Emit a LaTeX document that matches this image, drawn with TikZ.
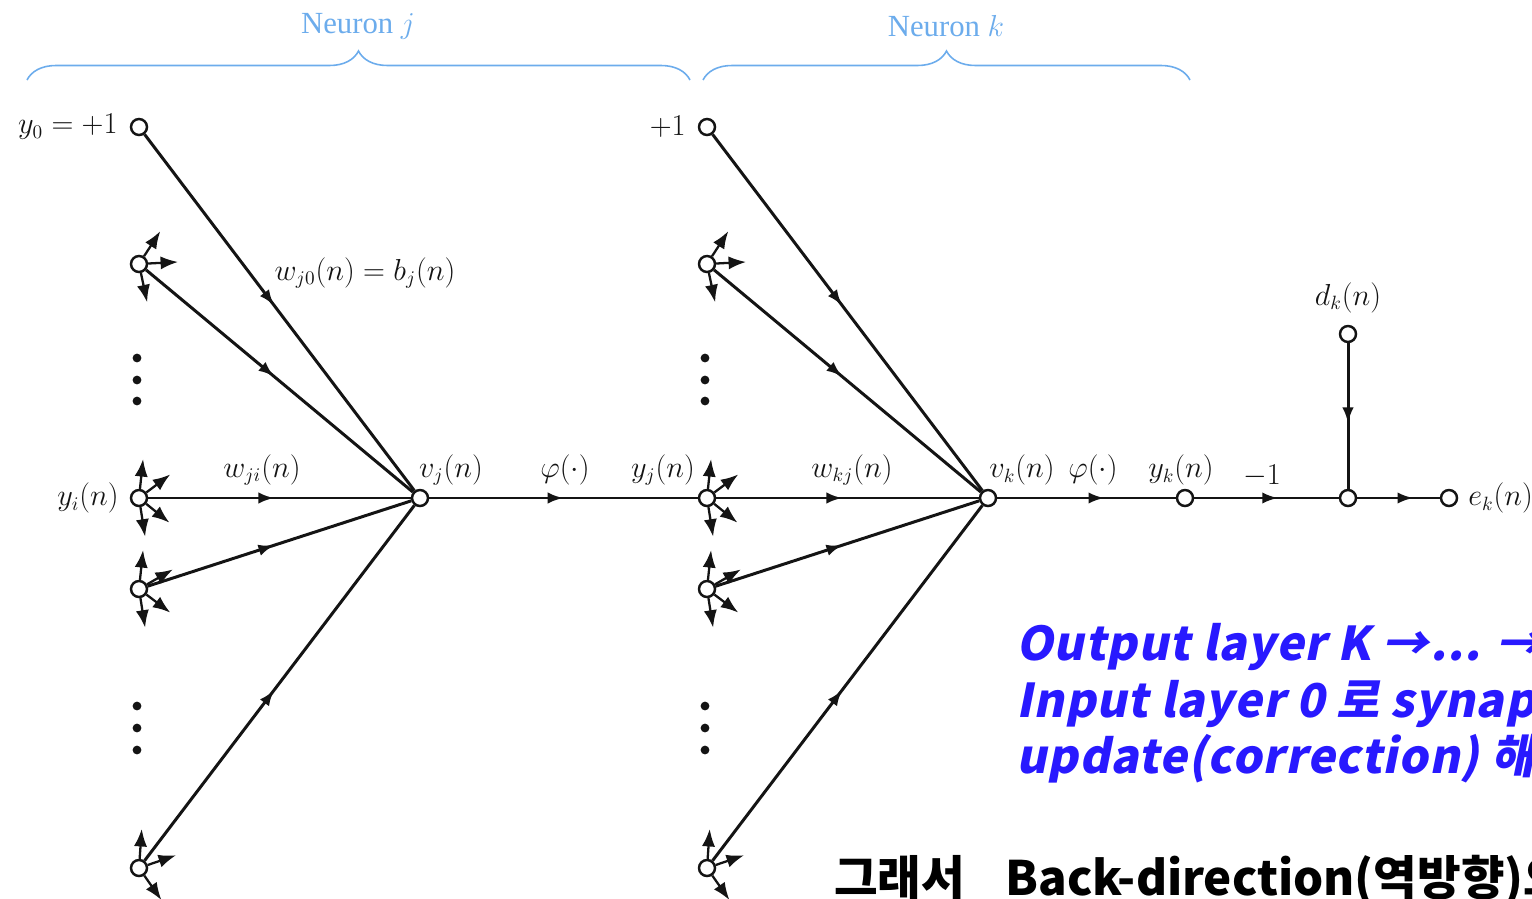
\documentclass[tikz,border=0pt]{standalone}
\usepackage{amsmath}
\usepackage{fontspec}
\setmainfont{Liberation Serif}
\newfontfamily\cjkfont{Noto Sans CJK KR}
\newfontfamily\cjkslant{Noto Sans CJK KR}[FakeSlant=0.2,LetterSpace=2]
\usetikzlibrary{arrows.meta,decorations.markings,decorations.pathreplacing,positioning,calc}
\definecolor{linegray}{RGB}{20,20,20}
\definecolor{neuronblue}{RGB}{108,172,236}
\definecolor{noteblue}{RGB}{40,25,255}

\begin{document}
\begin{tikzpicture}[x=0.02cm,y=-0.02cm]
    %
    \useasboundingbox (0,0) rectangle (1532,899);
    \clip (0,0) rectangle (1532,899);

    %
    \tikzset{
        sig/.style={draw=linegray, line width=1.7pt},
        flow/.style={sig, postaction={decorate},
            decoration={markings, mark=at position #1 with {\arrow{Latex[length=9pt,width=6.5pt]}}}},
        flow/.default=0.5,
        stub/.style={draw=linegray, line width=1.3pt, -{Latex[length=10pt,width=7.5pt]}},
        junction/.style={circle, draw=linegray, line width=1.4pt, fill=white, inner sep=0pt, minimum size=0.32cm},
        dotmark/.style={circle, fill=linegray, inner sep=0pt, minimum size=5pt},
        lbl/.style={font=\fontsize{16}{18}\selectfont, text=linegray},
        bracket/.style={draw=neuronblue, line width=0.9pt, decorate, decoration={brace, amplitude=0.58cm}},
        neuronlbl/.style={font=\fontsize{17.5}{19}\selectfont, text=neuronblue},
        note/.style={font=\cjkslant\bfseries\fontsize{26.5}{30}\selectfont, text=noteblue, anchor=base west},
    }

    %
    \foreach \nx/\nn in {0/j,568/k} {
        \node[junction] (\nn-bias) at (139+\nx,127) {};
        \node[junction] (\nn-in1) at (139+\nx,264) {};
        \node[junction] (\nn-in2) at (139+\nx,498) {};
        \node[junction] (\nn-in3) at (139+\nx,589) {};
        \node[junction] (\nn-in4) at (139+\nx,868) {};
        \node[junction] (\nn-sum) at (420+\nx,498) {};
        \foreach \dy [count=\d] in {358,380,401,706,728,750}
            \node[dotmark] (\nn-dot\d) at (137+\nx,\dy) {};
    }

    %
    \node[junction] (yk) at (1185,498) {};
    \node[junction] (errsum) at (1348,498) {};
    \node[junction] (dk) at (1348,334) {};
    \node[junction] (ek) at (1449,498) {};

    %
    \foreach \nn in {j,k} {
        \foreach \src in {bias,in1,in2,in3,in4}
            \draw[flow=0.48] (\nn-\src) -- (\nn-sum);
        \foreach \a in {57,3,-78}
            \draw[stub] (\nn-in1.\a) -- ++(\a:0.6cm);
        \foreach \a in {84,37,-39,-81}
            \draw[stub] (\nn-in2.\a) -- ++(\a:0.6cm);
        \foreach \a in {84,30,-37,-81}
            \draw[stub] (\nn-in3.\a) -- ++(\a:0.6cm);
        \foreach \a in {86,19,-55}
            \draw[stub] (\nn-in4.\a) -- ++(\a:0.6cm);
    }
    \draw[flow] (j-sum) -- (k-in2);
    \draw[flow=0.6] (k-sum) -- (yk);
    \draw[flow=0.58] (yk) -- (errsum);
    \draw[flow=0.55] (dk) -- (errsum);
    \draw[flow=0.68] (errsum) -- (ek);

    %
    \node[lbl, left=0.12cm of j-bias] (y0-lbl) {$y_0 = +1$};
    \node[lbl, left=0.12cm of k-bias] (one-lbl) {$+1$};
    \node[lbl, left=0.1cm of j-in2] (yi-lbl) {$y_i(n)$};
    \node[lbl, above=0.12cm of dk] (dk-lbl) {$d_k(n)$};
    \node[lbl, right=0.08cm of ek] (ek-lbl) {$e_k(n)$};
    \node[lbl] (bj-lbl) at (365,273) {$w_{j0}(n) = b_j(n)$};
    \node[lbl] (wji-lbl) at (262,470) {$w_{ji}(n)$};
    \node[lbl] (vj-lbl) at (451,470) {$v_j(n)$};
    \node[lbl] (phij-lbl) at (565,470) {$\varphi(\cdot)$};
    \node[lbl] (yj-lbl) at (663,470) {$y_j(n)$};
    \node[lbl] (wkj-lbl) at (852,470) {$w_{kj}(n)$};
    \node[lbl] (vk-lbl) at (1022,470) {$v_k(n)$};
    \node[lbl] (phik-lbl) at (1093,470) {$\varphi(\cdot)$};
    \node[lbl] (ykl-lbl) at (1181,470) {$y_k(n)$};
    \node[lbl] (minus-lbl) at (1262,476) {$-1$};

    %
    \draw[bracket] (27,80) -- (690,80);
    \draw[bracket] (703,80) -- (1190,80);
    \node[neuronlbl] (nj-lbl) at (358,26) {Neuron $j$};
    \node[neuronlbl] (nk-lbl) at (946,26) {Neuron $k$};

    %
    \node[note] (note1) at (1010,660) {Output layer K →... →H};
    \node[note] (note2) at (1010,717) {Input layer 0 로 synaptic};
    \node[note] (note3) at (1010,773) {update(correction) 해 :};
    \node[font=\cjkfont\bfseries\fontsize{27}{30}\selectfont, anchor=base west] (note4) at (828,895) {그래서\hspace{0.85em}Back-direction(역방향)으로};

\end{tikzpicture}
\end{document}
